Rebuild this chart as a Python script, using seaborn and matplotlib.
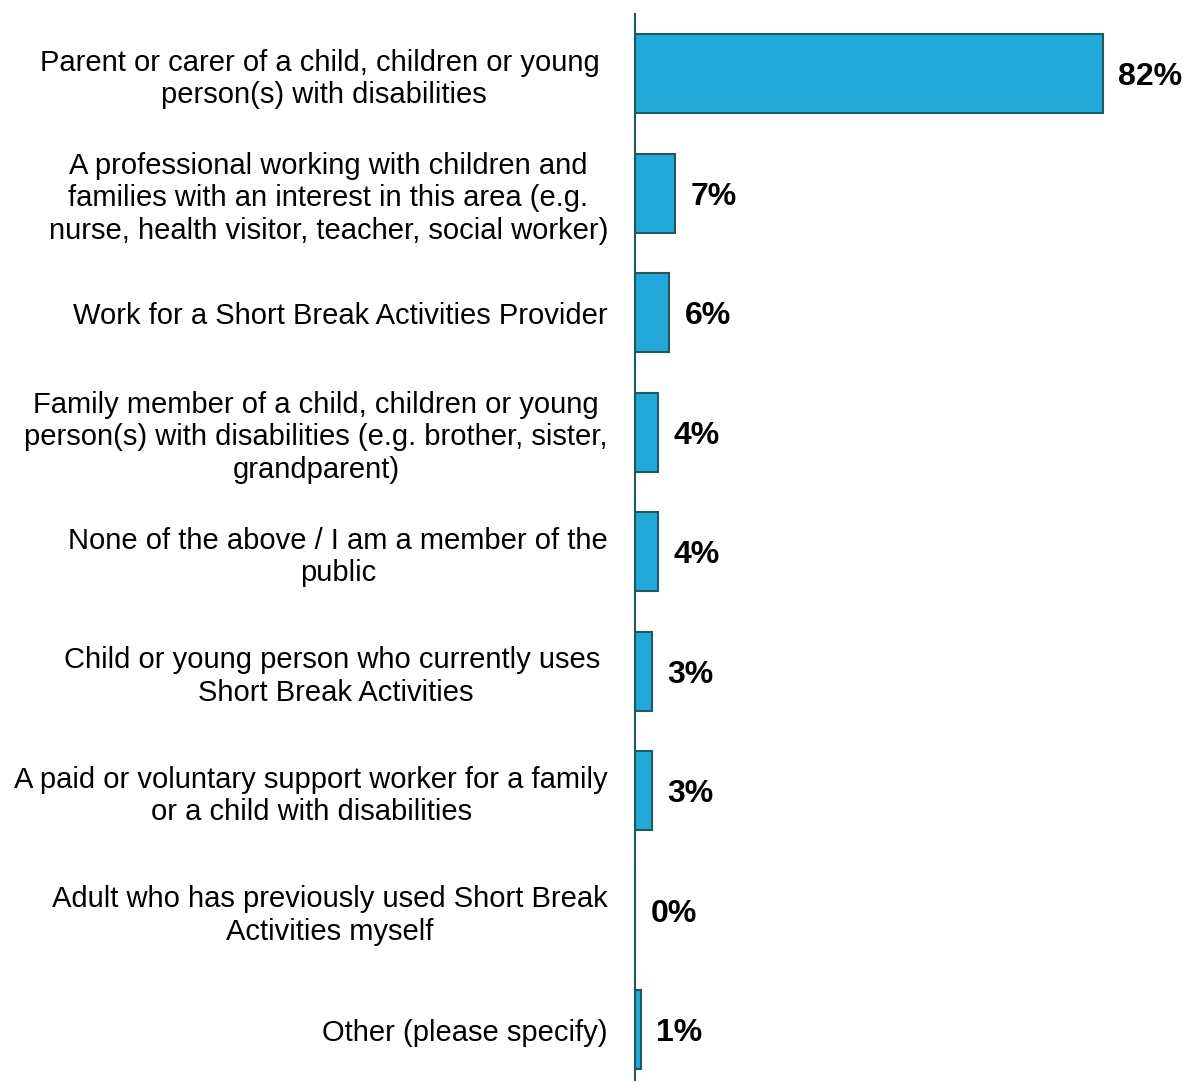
# Horizontal bar chart of respondent types.
import pandas as pd
import numpy as np
import matplotlib.pyplot as plt
import seaborn as sns

# Data.
categories = [
    "Parent or carer of a child, children or young \nperson(s) with disabilities",
    "A professional working with children and\nfamilies with an interest in this area (e.g.\nnurse, health visitor, teacher, social worker)",
    "Work for a Short Break Activities Provider",
    "Family member of a child, children or young\nperson(s) with disabilities (e.g. brother, sister,\ngrandparent)",
    "None of the above / I am a member of the\npublic",
    "Child or young person who currently uses \nShort Break Activities",
    "A paid or voluntary support worker for a family\nor a child with disabilities",
    "Adult who has previously used Short Break\nActivities myself",
    "Other (please specify)",
]
percentages = [82, 7, 6, 4, 4, 3, 3, 0, 1]
value_labels = ["82%", "7%", "6%", "4%", "4%", "3%", "3%", "0%", "1%"]

df = pd.DataFrame({"Category": categories, "Percent": percentages})

sns.set_style("white")
plt.rcParams["font.family"] = ["Liberation Sans", "DejaVu Sans"]

fig = plt.figure(figsize=(11.86, 10.81), dpi=100)
ax = fig.add_axes([0.5354, 0.0, 0.4646, 0.987])

bar_color = "#23A8DA"
edge_color = "#1F5A5C"

sns.barplot(data=df, x="Percent", y="Category", orient="h", color=bar_color,
            edgecolor=edge_color, linewidth=1.5, width=0.66, saturation=1, ax=ax)

ax.set_xlim(0, 96.5)
ax.set_ylim(8.43, -0.5)

# Bold value labels at the end of each bar.
texts = ax.bar_label(ax.containers[0], labels=value_labels, padding=11,
                     fontsize=23, fontweight="bold", color="black")
for t in texts:
    t.set_va("center_baseline")

ax.set_xlabel("")
ax.set_ylabel("")
ax.set_xticks([])
ax.tick_params(axis="y", length=0, pad=19.5, labelcolor="black")
for lbl in ax.get_yticklabels():
    lbl.set_fontsize(21)
    lbl.set_multialignment("center")
    lbl.set_linespacing(1.2)

for side in ["top", "right", "bottom"]:
    ax.spines[side].set_visible(False)
ax.spines["left"].set_color(edge_color)
ax.spines["left"].set_linewidth(1.5)

fig.savefig("out.png", dpi=100)
